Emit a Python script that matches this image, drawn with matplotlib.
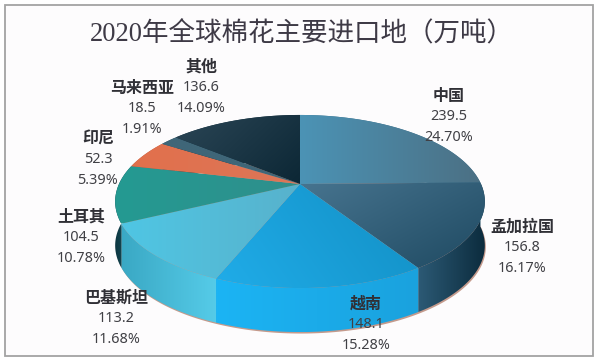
"""
2020 cotton importers, pseudo-3D pie drawn in pixel coordinates
"""

import numpy as np
import matplotlib
matplotlib.use('Agg')
import matplotlib.pyplot as plt
from matplotlib.colors import to_rgb
from matplotlib.patches import Polygon, Rectangle

# Data
names = ['中国', '孟加拉国', '越南', '巴基斯坦', '土耳其', '印尼', '马来西亚', '其他']
values = [239.5, 156.8, 148.1, 113.2, 104.5, 52.3, 18.5, 136.6]
shares = ['24.70%', '16.17%', '15.28%', '11.68%', '10.78%', '5.39%', '1.91%', '14.09%']
title = '2020年全球棉花主要进口地（万吨）'

# Label anchors, pixels: x, first line y
LABEL_POS = [(449, 96), (522, 227), (366, 304), (116, 298),
             (81, 217), (98, 139), (142, 88), (201, 67)]
LINE_GAP = 20.7

# Top face gradient (start, end, direction in degrees), then side gradient
TOP_COLORS = [('#4b93b5', '#4c7084', 0),
              ('#47748f', '#1f4a62', -40),
              ('#128fc4', '#20ace8', 200),
              ('#4fc6e4', '#58b2cc', 0),
              ('#249a92', '#2f8f8c', 0),
              ('#e2704c', '#dc7658', 0),
              ('#3f6678', '#3f6678', 0),
              ('#2b4656', '#0c2735', -30)]
SIDE_COLORS = [('#3a6f8a', '#3a6f8a'),
               ('#2c5a75', '#0c2c3e'),
               ('#1cb4f4', '#1aa2de'),
               ('#3aa8c4', '#55cbe8'),
               ('#0c3540', '#1d5a66'),
               ('#b55a40', '#b55a40'),
               ('#2f5060', '#2f5060'),
               ('#14303e', '#14303e')]

# Perspective of the pie disc
CX, CY = 300, 184
A, B, K = 181, 83, 0.2023
DEPTH = 44

fig, ax = plt.subplots(figsize=(5.99, 3.6), dpi=100)
fig.subplots_adjust(0, 0, 1, 1)
ax.set_xlim(0, 599)
ax.set_ylim(360, 0)
ax.axis('off')


def rim(theta):
    """Point on the disc edge for clockwise angle from 12 o'clock"""
    u, v = np.sin(theta), np.cos(theta)
    w = 1 + K * v
    return np.column_stack([CX + A * u / w, CY - B * v / w])


def gradient_fill(points, c1, c2, angle=0, zorder=2):
    """Fill a polygon with a linear gradient, clipped to its outline"""
    x0, y0 = points.min(axis=0)
    x1, y1 = points.max(axis=0)
    xx, yy = np.meshgrid(np.linspace(0, 1, 64), np.linspace(0, 1, 64))
    a = np.deg2rad(angle)
    t = xx * np.cos(a) - yy * np.sin(a)
    t = (t - t.min()) / (t.max() - t.min())
    c1, c2 = np.array(to_rgb(c1)), np.array(to_rgb(c2))
    img = c1 + (c2 - c1) * t[..., None]
    im = ax.imshow(img, extent=(x0, x1, y1, y0), aspect='auto',
                   interpolation='bilinear', zorder=zorder)
    clip = Polygon(points, closed=True, transform=ax.transData)
    im.set_clip_path(clip)


# Page frame
ax.add_patch(Rectangle((5, 5), 588, 351, facecolor='#fdfcfd',
                       edgecolor='#a3a3a3', linewidth=1.3, zorder=0))

edges = np.concatenate([[0], np.cumsum(values)]) / np.sum(values) * 2 * np.pi

# Soft brown rim below the disc
full = rim(np.linspace(0, 2 * np.pi, 360))
ax.add_patch(Polygon(full + [1, DEPTH + 1.5], closed=True, facecolor='#c49a8c',
                     edgecolor='none', zorder=1))

# Side wall
for i in range(len(values)):
    arc = rim(np.linspace(edges[i], edges[i + 1], 80))
    wall = np.vstack([arc, arc[::-1] + [0, DEPTH]])
    c1, c2 = SIDE_COLORS[i]
    gradient_fill(wall, c1, c2, 0, zorder=2)

# Top faces
for i in range(len(values)):
    arc = rim(np.linspace(edges[i], edges[i + 1], 80))
    face = np.vstack([[CX, CY], arc])
    c1, c2, direction = TOP_COLORS[i]
    gradient_fill(face, c1, c2, direction, zorder=3)

# Title
ax.text(302, 35, title, ha='center', va='center', fontsize=19.1, color='#3e3a46',
        family=['Liberation Serif', 'Noto Sans CJK SC'], zorder=5)

# Labels
for i, (x, y) in enumerate(LABEL_POS):
    ax.text(x, y, names[i], ha='center', va='center', fontsize=11.5, color='#303036',
            family=['Noto Sans CJK SC'], fontweight='bold', zorder=5)
    ax.text(x, y + LINE_GAP, f'{values[i]}', ha='center', va='center', fontsize=10.4,
            color='#404045', family='Noto Sans', zorder=5)
    ax.text(x, y + 2 * LINE_GAP, shares[i], ha='center', va='center', fontsize=10.4,
            color='#404045', family='Noto Sans', zorder=5)

ax.set_xlim(0, 599)
ax.set_ylim(360, 0)
fig.savefig('out.png', dpi=100)
